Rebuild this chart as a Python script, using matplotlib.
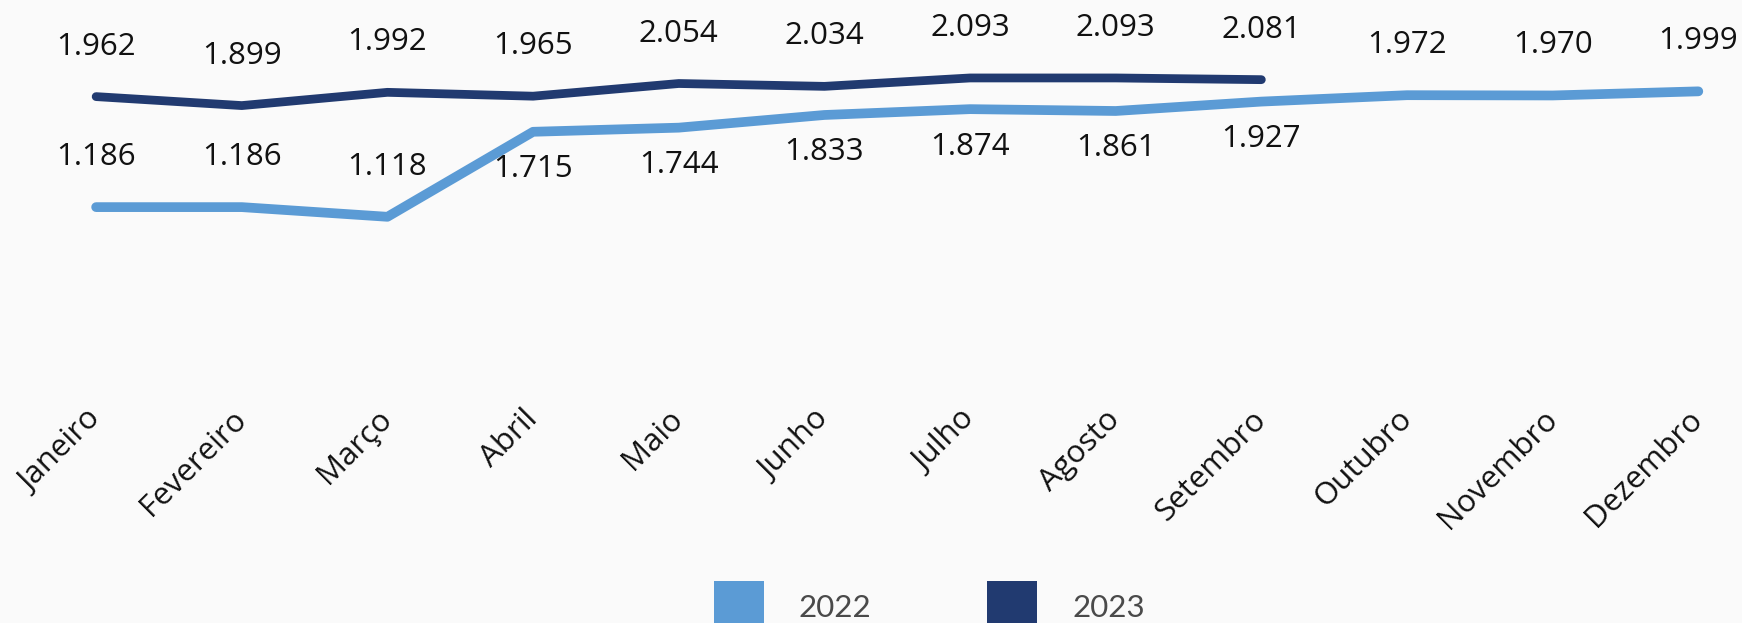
import matplotlib
matplotlib.use("Agg")
import matplotlib.pyplot as plt
from matplotlib.patches import Patch

months = ["Janeiro", "Fevereiro", "Março", "Abril", "Maio", "Junho", "Julho",
          "Agosto", "Setembro", "Outubro", "Novembro", "Dezembro"]
values_2022 = [1186, 1186, 1118, 1715, 1744, 1833, 1874, 1861, 1927, 1972, 1970, 1999]
values_2023 = [1962, 1899, 1992, 1965, 2054, 2034, 2093, 2093, 2081]
series_names = ["2022", "2023"]

c2022 = "#5B9BD5"
c2023 = "#213A70"
bg = "#FAFAFA"

W, H = 1742, 623
fig = plt.figure(figsize=(W / 100, H / 100), dpi=100, facecolor=bg)
ax = fig.add_axes([0, 1 - 376 / H, 1, 356 / H])
ax.set_facecolor(bg)

x22 = list(range(len(values_2022)))
x23 = list(range(len(values_2023)))
ax.plot(x22, values_2022, color=c2022, lw=7, solid_capstyle="round", solid_joinstyle="round")
ax.plot(x23, values_2023, color=c2023, lw=6.3, solid_capstyle="round", solid_joinstyle="round")

ax.set_xlim(-0.66, 11.30)
ax.set_ylim(0, 2500)

def fmt(v):
    return f"{v:,}".replace(",", ".")

lab_font = dict(family="Open Sans", size=22.5, color="#111111")
for i, v in enumerate(values_2023):
    ax.annotate(fmt(v), (i, v), xytext=(0, 36), textcoords="offset points",
                ha="center", va="center", **lab_font)
for i, v in enumerate(values_2022):
    below = i < len(values_2023) and (values_2023[i] - v) < 500
    dy = -27 if below else 36
    ax.annotate(fmt(v), (i, v), xytext=(0, dy), textcoords="offset points",
                ha="center", va="center", **lab_font)

ax.set_xticks(range(len(months)))
ax.set_xticklabels(months, rotation=45, ha="right", va="center",
                   rotation_mode="anchor", family="Open Sans", fontsize=22.5, color="#111111")
ax.tick_params(axis="x", length=0, pad=28)
ax.set_yticks([])
for s in ax.spines.values():
    s.set_visible(False)

handles = [Patch(facecolor=c2022, edgecolor="none"), Patch(facecolor=c2023, edgecolor="none")]
leg = fig.legend(handles, series_names, loc="upper left", bbox_to_anchor=(714 / W, 1 - 581 / H),
                 ncol=2, frameon=False, borderpad=0, borderaxespad=0,
                 handlelength=1.6, handleheight=2.2, handletextpad=1.12, columnspacing=3.7,
                 prop=dict(family="Lato", weight="normal", size=22.5))
for t in leg.get_texts():
    t.set_color("#4A4A4A")

fig.savefig("out.png", dpi=100, facecolor=bg)
